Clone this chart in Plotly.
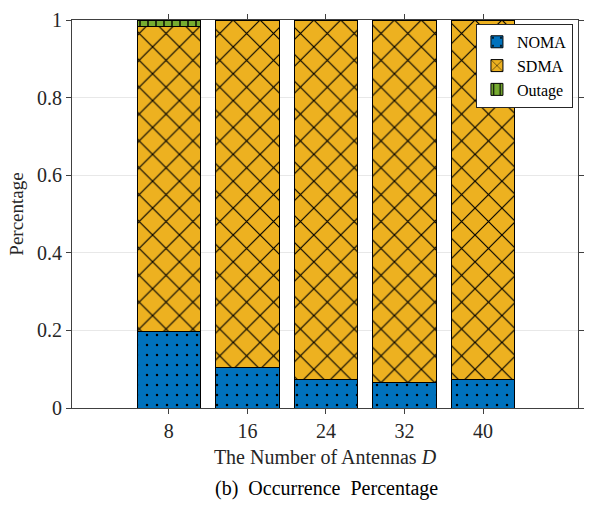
import plotly.graph_objects as go

antennas = ["8", "16", "24", "32", "40"]
noma = [0.196, 0.104, 0.073, 0.066, 0.073]
outage = [0.016, 0.0, 0.0, 0.0, 0.0]
sdma = [round(1 - n - o, 3) for n, o in zip(noma, outage)]

FONT = "Liberation Serif"
fig = go.Figure()

series = [
    ("NOMA", noma, "#0072BD", ".", 10, 0.05),
    ("SDMA", sdma, "#EDB120", "x", 19, 0.12),
    ("Outage", outage, "#77AC30", "|", 8, 0.18),
]
for name, vals, col, shape, size, sol in series:
    fig.add_trace(go.Bar(
        x=antennas, y=vals, name=name, width=0.81,
        marker=dict(color=col, line=dict(color="black", width=1),
                    pattern=dict(shape=shape, size=size, solidity=sol,
                                 fgcolor="black", bgcolor=col, fillmode="replace")),
    ))

axis_common = dict(showline=True, linecolor="#404040", linewidth=1, mirror="ticks",
                   ticks="outside", ticklen=5, tickcolor="#404040",
                   tickfont=dict(family=FONT, size=20, color="#262626"))

fig.update_layout(
    width=593, height=509,
    margin=dict(l=72, r=9, t=12, b=101),
    barmode="stack",
    plot_bgcolor="white", paper_bgcolor="white",
    font=dict(family=FONT, size=20, color="#262626"),
    xaxis=dict(type="category", range=[-1.233, 5.208], showgrid=False,
               title=dict(text="The Number of Antennas <i>D</i>", standoff=8,
                          font=dict(family=FONT, size=20, color="#262626")),
               **axis_common),
    yaxis=dict(range=[0, 1], dtick=0.2, showgrid=True, gridcolor="#e8e8e8",
               zeroline=False,
               title=dict(text="Percentage", standoff=8,
                          font=dict(family=FONT, size=19, color="#262626")),
               **axis_common),
    legend=dict(x=0.99, y=0.99, xanchor="right", yanchor="top",
                traceorder="normal", bgcolor="white", bordercolor="#262626",
                borderwidth=1, font=dict(family=FONT, size=16, color="black"),
                itemwidth=30, tracegroupgap=0),
    showlegend=True,
)
fig.add_annotation(text="(b)  Occurrence  Percentage", xref="paper", yref="paper",
                   x=0.502, y=-0.207, xanchor="center", yanchor="middle",
                   showarrow=False, font=dict(family=FONT, size=20, color="black"))

fig.write_html("out.html")
